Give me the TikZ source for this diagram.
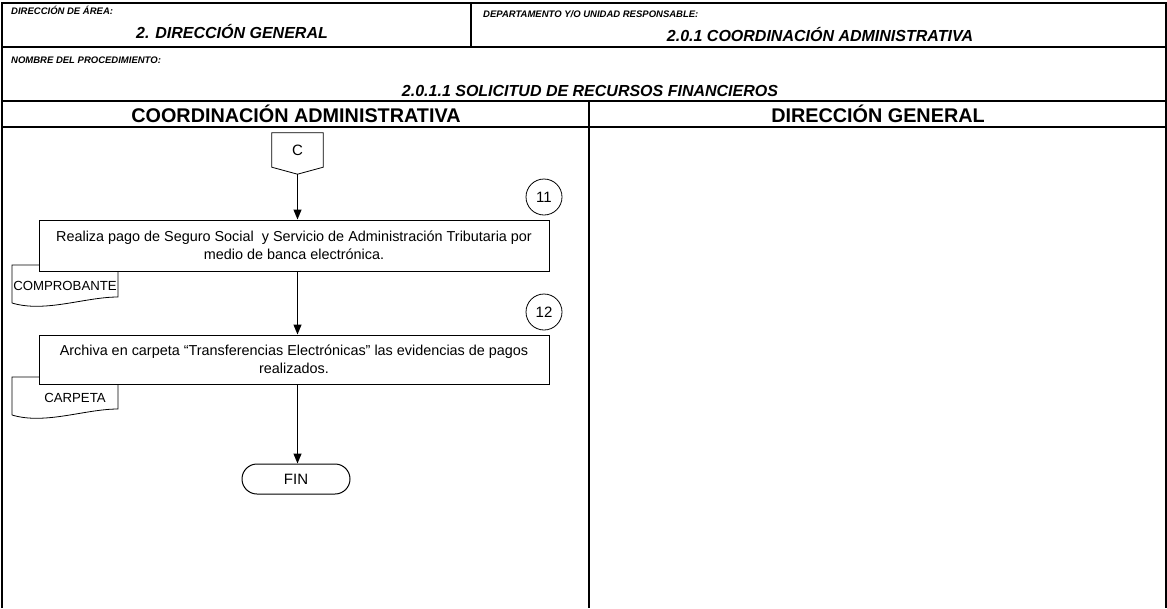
\documentclass[tikz,border=0pt]{standalone}
\usepackage{fontspec}
\setmainfont{Liberation Sans}
\usetikzlibrary{arrows.meta,calc,positioning}

\tikzset{
	rahmen/.style={line width=1.1pt},
	kopf/.style={font=\fontsize{9.5}{10}\selectfont\bfseries\itshape, anchor=west, inner sep=0},
	kopfwert/.style={font=\fontsize{16}{18}\selectfont\bfseries\itshape, inner sep=0},
	bahn/.style={font=\fontsize{19.8}{22}\selectfont\bfseries, inner sep=0},
	schritt/.style={draw, fill=white, line width=1pt, minimum width=510pt,
		minimum height=51pt, align=center, inner sep=2pt,
		font=\fontsize{14.4}{18}\selectfont},
	beleg/.style={font=\fontsize{13.2}{14}\selectfont, inner sep=0},
	nummer/.style={draw, circle, line width=0.8pt, minimum size=36pt,
		inner sep=0, font=\fontsize{15}{16}\selectfont},
	pfeil/.style={line width=1.2pt, -{Triangle[length=10pt,width=8pt]}},
	ende/.style={draw, rounded corners=15pt, minimum width=108pt,
		minimum height=30pt, line width=1pt, font=\fontsize{15}{16}\selectfont}
}

\begin{document}
\begin{tikzpicture}[x=1pt, y=-1pt]
	\useasboundingbox (0,0) rectangle (1167,608);
	% Rahmen und Kopfzeilen
	\draw[rahmen] (2,608) -- (2,3) -- (1166,3) -- (1166,608);
	\draw[rahmen] (2,47) -- (1166,47);
	\draw[rahmen] (2,101) -- (1166,101);
	\draw[rahmen] (2,127) -- (1166,127);
	\draw[rahmen] (471,3) -- (471,47);
	\draw[rahmen] (589,101) -- (589,608);
	% Kopftexte
	\node[kopf] (area) at (11, 10) {DIRECCIÓN DE ÁREA:};
	\node[kopfwert] (areawert) at (232, 32) {2. DIRECCIÓN GENERAL};
	\node[kopf] (depto) at (483, 14) {DEPARTAMENTO Y/O UNIDAD RESPONSABLE:};
	\node[kopfwert] (deptowert) at (820, 35) {2.0.1 COORDINACIÓN ADMINISTRATIVA};
	\node[kopf] (proc) at (11, 60) {NOMBRE DEL PROCEDIMIENTO:};
	\node[kopfwert] (procwert) at (590, 91) {2.0.1.1 SOLICITUD DE RECURSOS FINANCIEROS};
	% Bahnen
	\node[bahn] (bahncoord) at (296, 114) {COORDINACIÓN ADMINISTRATIVA};
	\node[bahn] (bahndir) at (878, 114) {DIRECCIÓN GENERAL};
	% Belege (hinter den Kaesten)
	\draw[line width=0.8pt] (12,303) -- (12,265) -- (118,265) -- (118,297)
		.. controls (85,297) and (45,313) .. (12,303);
	\node[beleg] (doc11) at (65, 286) {COMPROBANTE};
	\draw[line width=0.8pt] (12,415) -- (12,377) -- (118,377) -- (118,409)
		.. controls (85,409) and (45,425) .. (12,415);
	\node[beleg] (doc12) at (75, 398) {CARPETA};
	% Verbinder C
	\node[minimum width=51pt, minimum height=34pt, inner sep=0,
		font=\fontsize{15}{16}\selectfont] (conC) at (297.5, 150) {C};
	\coordinate (conCtip) at ($(conC.south)+(0,7)$);
	\draw[line width=0.8pt] (conC.south east) -- (conC.north east)
		-- (conC.north west) -- (conC.south west) -- (conCtip) -- cycle;
	% Schritte
	\node[schritt] (paso11) at (294, 245.5) {Realiza pago de Seguro Social\ \ y Servicio de Administración Tributaria por\\ medio de banca electrónica.};
	\node[nummer] (num11) at (544, 197) {11};
	\node[schritt, minimum height=49pt] (paso12) at (294, 359.5) {Archiva en carpeta “Transferencias Electrónicas” las evidencias de pagos\\ realizados.};
	\node[nummer] (num12) at (544, 312) {12};
	\node[ende] (fin) at (296, 479) {FIN};
	% Pfeile
	\draw[pfeil] (conCtip) -- (conCtip |- paso11.north);
	\draw[pfeil] (paso11.south -| conCtip) -- (conCtip |- paso12.north);
	\draw[pfeil] (paso12.south -| conCtip) -- (conCtip |- fin.north);
\end{tikzpicture}
\end{document}
